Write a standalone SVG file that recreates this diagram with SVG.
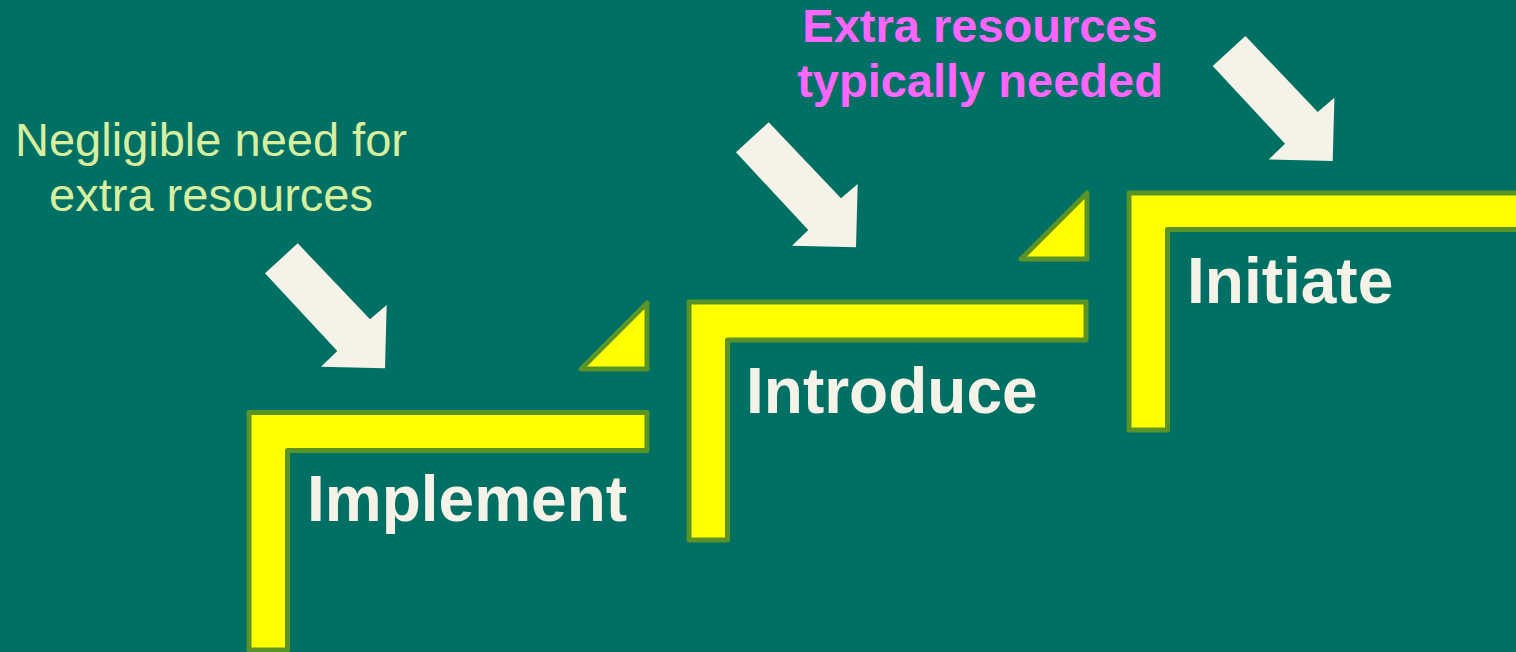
<svg xmlns="http://www.w3.org/2000/svg" width="1516" height="652" viewBox="0 0 1516 652">
<style>
.step{fill:#ffff00;stroke:#5a9428;stroke-width:5;stroke-linejoin:round}
.lbl{font-family:"Liberation Sans",Arial,sans-serif;font-weight:bold;font-size:64px;fill:#f5f3e8}
.note{font-family:"Liberation Sans",Arial,sans-serif;font-size:47px;text-anchor:middle}
.arrow{fill:#f5f3e8}
</style>
<defs>
<path id="arr" d="M-87.3,-125 L-15,-49 L1.7,-63.3 L0,0 L-64,-1.6 L-47.7,-17.3 L-120,-95 Z"/>
</defs>
<rect width="1516" height="652" fill="#006f64"/>
<g id="note-negligible">
<text class="note" fill="#d8efa0" x="211" y="155.5">Negligible need for</text>
<text class="note" fill="#d8efa0" x="211" y="211">extra resources</text>
</g>
<g id="note-extra">
<text class="note" fill="#ff66ff" font-weight="bold" x="980" y="42">Extra resources</text>
<text class="note" fill="#ff66ff" font-weight="bold" x="980" y="97">typically needed</text>
</g>
<g id="step-implement">
<path class="step" d="M249,650 V412.5 H647 V450.5 H287.5 V650 Z"/>
<text class="lbl" x="307" y="521">Implement</text>
</g>
<g id="riser-1">
<path class="step" d="M647,303 V369 H581 Z"/>
</g>
<g id="step-introduce">
<path class="step" d="M689,540 V302 H1086 V340 H727.5 V540 Z"/>
<text class="lbl" x="746" y="413">Introduce</text>
</g>
<g id="riser-2">
<path class="step" d="M1087,193 V259 H1021 Z"/>
</g>
<g id="step-initiate">
<path class="step" d="M1129,430 V193 H1530 V229.5 H1167.5 V430 Z"/>
<text class="lbl" x="1187" y="303">Initiate</text>
</g>
<g id="connectors">
<use href="#arr" class="arrow" transform="translate(385,368.3)"/>
<use href="#arr" class="arrow" transform="translate(856,247.3)"/>
<use href="#arr" class="arrow" transform="translate(1332.7,161)"/>
</g>
</svg>
